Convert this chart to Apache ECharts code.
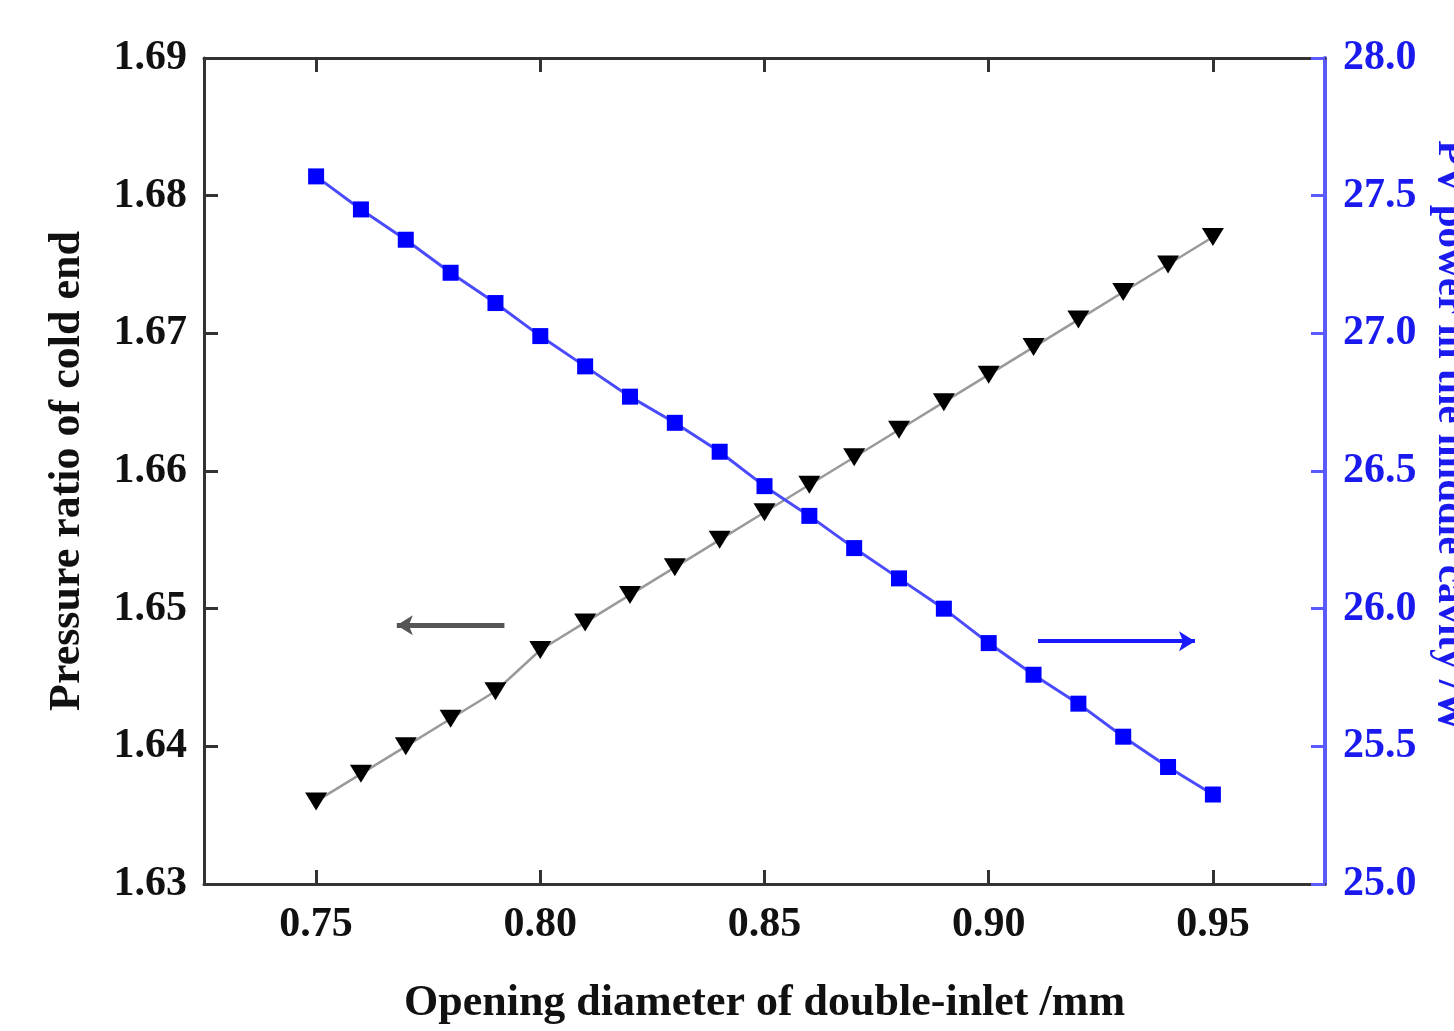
<!DOCTYPE html>
<html>
<head>
<meta charset="utf-8">
<script src="https://cdn.jsdelivr.net/npm/echarts@6/dist/echarts.min.js"></script>
<style>
html,body{margin:0;padding:0;background:#fff;}
#chart{width:1454px;height:1031px;}
</style>
</head>
<body>
<div id="chart"></div>
<script>
const diameters = [0.75,0.76,0.77,0.78,0.79,0.80,0.81,0.82,0.83,0.84,0.85,0.86,0.87,0.88,0.89,0.90,0.91,0.92,0.93,0.94,0.95];
const pressureRatio = [1.636,1.638,1.640,1.642,1.644,1.647,1.649,1.651,1.653,1.655,1.657,1.659,1.661,1.663,1.665,1.667,1.669,1.671,1.673,1.675,1.677];
const pvPower = [27.57,27.45,27.34,27.22,27.11,26.99,26.88,26.77,26.675,26.57,26.445,26.337,26.22,26.11,26.00,25.875,25.76,25.655,25.535,25.425,25.325];
const xTicks = [0.75,0.80,0.85,0.90,0.95];
const leftArrow = [[0.792,1.6488],[0.768,1.6488]];
const rightArrow = [[0.911,25.882],[0.946,25.882]];

const FONT = "'Liberation Serif','Times New Roman',serif";
const chart = echarts.init(document.getElementById('chart'), null, {renderer:'canvas'});
const axisDark = '#333333';
const blueAxis = '#5a5aff';
const blueText = '#1a1aee';

chart.setOption({
  backgroundColor:'#ffffff',
  animation:false,
  grid:{left:204,right:129,top:58,bottom:147,containLabel:false,outerBoundsMode:'none'},
  xAxis:[{
    type:'value', position:'bottom', min:0.725, max:0.975,
    name:'Opening diameter of double-inlet /mm', nameLocation:'middle', nameGap:98,
    nameTextStyle:{fontFamily:FONT,fontWeight:'bold',fontSize:44,color:'#111'},
    axisLine:{show:true,lineStyle:{color:axisDark,width:3}},
    axisTick:{show:true,inside:true,length:14,lineStyle:{color:axisDark,width:3},customValues:xTicks},
    axisLabel:{show:true,margin:20,fontFamily:FONT,fontWeight:'bold',fontSize:42,color:'#111',
      customValues:xTicks, formatter:v=>v.toFixed(2)},
    splitLine:{show:false}
  },{
    type:'value', position:'top', min:0.725, max:0.975,
    axisLine:{show:true,lineStyle:{color:axisDark,width:3}},
    axisTick:{show:true,inside:true,length:14,lineStyle:{color:axisDark,width:3},customValues:xTicks},
    axisLabel:{show:false},
    splitLine:{show:false}
  }],
  yAxis:[{
    type:'value', position:'left', min:1.63, max:1.69, interval:0.01,
    name:'Pressure ratio of cold end', nameLocation:'middle', nameGap:114, nameRotate:90,
    nameTextStyle:{fontFamily:FONT,fontWeight:'bold',fontSize:44,color:'#111'},
    axisLine:{show:true,lineStyle:{color:axisDark,width:3}},
    axisTick:{show:true,inside:true,length:14,lineStyle:{color:axisDark,width:3}},
    axisLabel:{margin:17,fontFamily:FONT,fontWeight:'bold',fontSize:42,color:'#111',formatter:v=>v.toFixed(2)},
    splitLine:{show:false}
  },{
    type:'value', position:'right', min:25, max:28, interval:0.5,
    name:'PV power in the middle cavity /W', nameLocation:'middle', nameGap:104, nameRotate:-90,
    nameTextStyle:{fontFamily:FONT,fontWeight:'bold',fontSize:41,color:blueText,padding:[0,70,0,0]},
    axisLine:{show:true,lineStyle:{color:blueAxis,width:4}},
    axisTick:{show:true,inside:true,length:14,lineStyle:{color:blueAxis,width:3}},
    axisLabel:{margin:18,fontFamily:FONT,fontWeight:'bold',fontSize:42,color:blueText,formatter:v=>v.toFixed(1)},
    splitLine:{show:false}
  }],
  series:[{
    name:'Pressure ratio', type:'line', xAxisIndex:0, yAxisIndex:0,
    data: diameters.map((x,i)=>[x,pressureRatio[i]]),
    symbol:'triangle', symbolRotate:180, symbolSize:[22,18],
    itemStyle:{color:'#000'}, lineStyle:{color:'#9a9a9a',width:2.5},
    z:3,
    markLine:{
      silent:true, symbol:['none','arrow'], symbolSize:[15,16],
      label:{show:false},
      lineStyle:{color:'#555',width:5,type:'solid'},
      data:[[{coord:leftArrow[0]},{coord:leftArrow[1], itemStyle:{color:'#000'}}]]
    }
  },{
    name:'PV power', type:'line', xAxisIndex:0, yAxisIndex:1,
    data: diameters.map((x,i)=>[x,pvPower[i]]),
    symbol:'rect', symbolSize:16,
    itemStyle:{color:'#0000ff'}, lineStyle:{color:'#4a4aff',width:3},
    z:4,
    markLine:{
      silent:true, symbol:['none','arrow'], symbolSize:[15,16],
      label:{show:false},
      lineStyle:{color:'#1a1aff',width:4,type:'solid'},
      data:[[{coord:rightArrow[0]},{coord:rightArrow[1]}]]
    }
  }]
});
</script>
</body>
</html>
